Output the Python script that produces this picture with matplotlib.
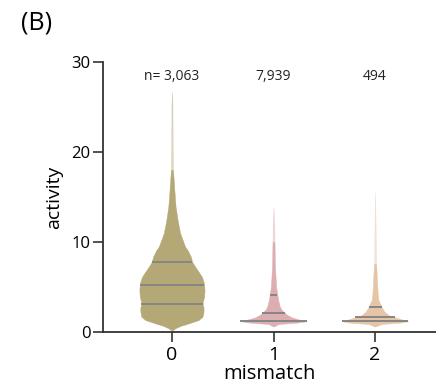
import numpy as np
import matplotlib
matplotlib.use("Agg")
import matplotlib.pyplot as plt

plt.rcParams['font.family'] = ['Open Sans', 'DejaVu Sans']

# categorias y conteos
grupos = [0, 1, 2]
n_labels = ["n= 3,063", "7,939", "494"]
colores = ["#b3a876", "#dcaeb1", "#e6c4a6"]

# perfiles de densidad (actividad, medio ancho)
v0_y = [0.2, 0.41, 0.67, 0.96, 1.33, 1.7, 2.26, 2.74, 3.1, 3.37, 3.93, 4.67, 5.2, 5.6,
        6.15, 6.7, 7.26, 7.8, 8.37, 9.1, 9.48, 10.96, 12.4, 13.9, 15.4, 16.9, 18.0,
        20.6, 25.4, 26.7]
v0_w = [0.01, 0.032, 0.081, 0.164, 0.262, 0.301, 0.311, 0.311, 0.301, 0.304, 0.317,
        0.321, 0.317, 0.311, 0.294, 0.262, 0.228, 0.199, 0.186, 0.154, 0.130, 0.081,
        0.056, 0.036, 0.026, 0.017, 0.010, 0.007, 0.005, 0.0]

v1_y = [0.6, 0.89, 1.04, 1.2, 1.41, 1.63, 1.89, 2.1, 2.44, 2.81, 3.56, 4.15, 5.0,
        6.15, 7.26, 8.0, 10.0, 12.0, 13.9]
v1_w = [0.0, 0.049, 0.229, 0.327, 0.245, 0.180, 0.137, 0.114, 0.082, 0.062, 0.046,
        0.038, 0.026, 0.020, 0.015, 0.013, 0.010, 0.008, 0.0]

v2_y = [0.6, 0.89, 1.04, 1.2, 1.41, 1.63, 1.89, 2.26, 2.63, 3.0, 3.56, 4.3, 5.4,
        6.5, 7.6, 10.0, 15.6]
v2_w = [0.0, 0.065, 0.245, 0.327, 0.261, 0.196, 0.131, 0.092, 0.072, 0.056, 0.033,
        0.026, 0.020, 0.016, 0.010, 0.008, 0.0]

# cuartiles (Q1, mediana, Q3)
cuartiles = [[3.1, 5.2, 7.8], [1.2, 2.1, 4.15], [1.2, 1.63, 2.81]]
# a partir de aca la cola se ve desvanecida
corte_cola = [18.0, 10.0, 7.6]

perfiles = [(v0_y, v0_w), (v1_y, v1_w), (v2_y, v2_w)]

fig = plt.figure(figsize=(4.36, 3.92), dpi=100)
ax = fig.add_axes([0.236, 0.153, 0.764, 0.689])

for x, (ys, ws), col, qs, lab, c in zip(grupos, perfiles, colores, cuartiles, n_labels, corte_cola):
    ys = np.array(ys)
    ws = np.array(ws)
    abajo = ys <= c
    arriba = ys >= c
    ax.fill_betweenx(ys[abajo], x - ws[abajo], x + ws[abajo], color=col, linewidth=0.3, edgecolor=col)
    ax.fill_betweenx(ys[arriba], x - ws[arriba], x + ws[arriba], color=col, alpha=0.45,
                     linewidth=0.3, edgecolor=col)
    for q in qs:
        w = np.interp(q, ys, ws)
        ax.plot([x - w, x + w], [q, q], color="#868686", lw=1.4, solid_capstyle="butt")
    ax.text(x, 28.4, lab, ha="center", va="center", fontsize=10, color="#222222")

ax.set_xlim(-0.68, 2.6)
ax.set_ylim(0, 30)
ax.set_xticks(grupos)
ax.set_xticklabels([str(g) for g in grupos], fontsize=14)
ax.set_yticks([0, 10, 20, 30])
ax.tick_params(axis="y", labelsize=12, length=7, width=1.2, color="#333333", pad=2)
ax.tick_params(axis="x", length=7, width=1.2, color="#333333", pad=3)
for s in ["top", "right"]:
    ax.spines[s].set_visible(False)
for s in ["left", "bottom"]:
    ax.spines[s].set_linewidth(1.3)
    ax.spines[s].set_color("#333333")

ax.set_xlabel("mismatch", fontsize=14.5, labelpad=0)
ax.set_ylabel("activity", fontsize=14, labelpad=6)
fig.text(0.048, 0.942, "(B)", fontsize=18, va="center", ha="left")

fig.savefig("out.png", dpi=100)
